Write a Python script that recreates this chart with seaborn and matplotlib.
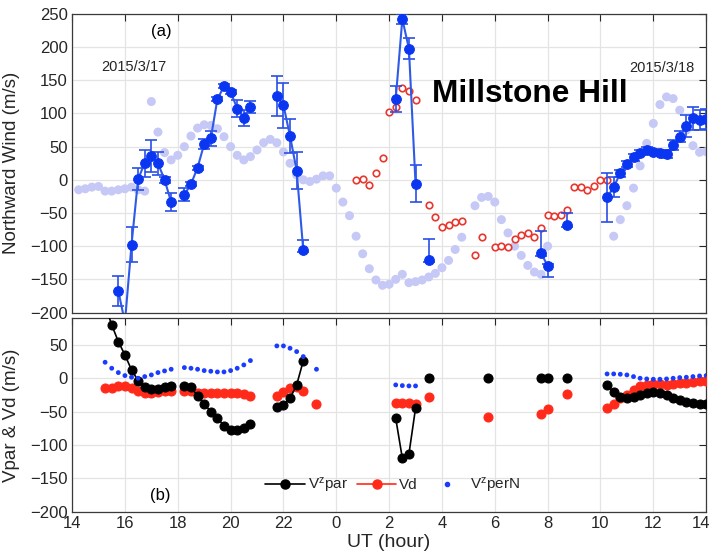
import numpy as np
import pandas as pd
import matplotlib
matplotlib.use("Agg")
import matplotlib.pyplot as plt
import matplotlib.transforms as mtransforms
import seaborn as sns
from matplotlib.lines import Line2D

# ---------------- data (UT hours, continuous from 14 on 2015/3/17) ----------------
# top panel: model northward wind (light lavender dots)
model_t = [14.25, 14.5, 14.75, 15.0, 15.25, 15.5, 15.75, 16.0, 16.25, 16.5, 16.75,
           17.0, 17.25, 17.5, 17.75, 18.0, 18.25, 18.5, 18.75, 19.0, 19.25, 19.5,
           19.75, 20.0, 20.25, 20.5, 20.75, 21.0, 21.25, 21.5, 21.75, 22.0,
           22.25, 22.5, 22.75, 23.0, 23.25, 23.5, 23.75, 24.0, 24.25, 24.5, 24.75,
           25.0, 25.25, 25.5, 25.75, 26.0, 26.25, 26.5, 26.75, 27.0, 27.25, 27.5,
           27.75, 28.0, 28.25, 28.5, 28.75,
           29.25, 29.5, 29.75, 30.0, 30.25, 30.5, 30.75, 31.0, 31.25, 31.5, 31.75, 32.0,
           34.5, 34.75, 35.0, 35.25, 35.5, 35.75, 36.0, 36.25, 36.5, 36.75, 37.0,
           37.25, 37.5, 37.75, 38.0]
model_v = [-15, -13.5, -11, -10, -17, -17, -15, -13.5, -11, -15, -17,
           118, 72, 41, 30, 37, 50, 66, 78, 83, 82, 77, 65, 50, 37, 30, 35, 45, 56, 61, 56, 42,
           25, 7.5, 0, -2.5, 1, 6, 6, -12.5, -33.5, -54, -85, -111.5, -134, -151, -159,
           -157.5, -150, -142.5, -155, -153.5, -151, -146.5, -141, -132.5, -121.5, -105, -86.5,
           -39, -26.5, -25, -33.5, -60, -80, -100, -114, -129, -139, -142.5, -100,
           -85, -60, -39, -12.5, 21, 55, 85, 113.5, 125, 122.5, 105, 75, 51.5, 41.5, 42.5]

# top panel: measured northward wind (blue, with error bars)
obs_t = [15.75, 16.0, 16.25, 16.5, 16.75, 17.0, 17.25, 17.5, 17.75,
         18.25, 18.5, 18.75, 19.0, 19.25, 19.5, 19.75, 20.0, 20.25, 20.5, 20.75,
         21.75, 22.0, 22.25, 22.5, 22.75,
         26.25, 26.5, 26.75, 27.0, 27.5,
         31.75, 32.0, 32.75,
         34.25, 34.5, 34.75, 35.0, 35.25, 35.5, 35.75, 36.0, 36.25, 36.5, 36.75,
         37.0, 37.25, 37.5, 37.75, 38.0]
obs_v = [-167.5, -215, -97.5, 1.5, 25, 36.5, 25, 0, -33.5,
         -22.5, -6.5, 18.5, 54, 62.5, 121.5, 141, 132.5, 107.5, 93.5, 110,
         126.5, 112.5, 66, 14, -106,
         122, 242.5, 197.5, -6, -121.5,
         -110, -130, -68.5,
         -26.5, -11, 10, 24, 34, 41, 45, 42.5, 41, 39, 52.5, 65, 81, 92.5, 90, 91.5]
obs_err_lo = [22, 0, 27, 17, 20, 24, 17, 5, 14,
              10, 3, 3, 8, 11, 3, 3, 3, 12.5, 12, 9.5,
              30, 34, 25, 28, 3,
              20, 7, 16, 28, 3,
              5, 16, 3,
              37.5, 15.5, 5, 5, 5, 4, 4, 4, 4, 6, 8, 8, 17, 17, 15, 15]
obs_err_hi = [22, 0, 27, 17, 20, 24, 17, 5, 14,
              10, 3, 3, 8, 11, 3, 3, 3, 12.5, 12, 9.5,
              30, 34, 25, 28, 15,
              20, 7, 16, 28, 33,
              33.5, 3, 18.5,
              37.5, 15.5, 5, 5, 5, 4, 4, 4, 4, 6, 8, 8, 17, 17, 15, 15]

# top panel: red open circles
vdn_t = [24.75, 25.0, 25.25, 25.5, 25.75, 26.0, 26.25, 26.5, 26.75, 27.0,
         27.5, 27.75, 28.0, 28.25, 28.5, 28.75, 29.25, 29.5,
         30.0, 30.25, 30.5, 30.75, 31.0, 31.25, 31.5, 31.75,
         32.0, 32.25, 32.5, 32.75, 33.0, 33.25, 33.5, 33.75, 34.0, 34.25]
vdn_v = [0, 2, -8.5, 10, 33, 101.5, 110, 139, 134, 120,
         -37.5, -56, -71, -68.5, -64, -61.5, -114, -86.5,
         -101.5, -100, -101.5, -89, -82.5, -80, -86.5, -72.5,
         -53.5, -55, -53.5, -45, -11, -11, -15, -10, 0, 0]

# bottom panel
par_t = [15.25, 15.5, 15.75, 16.0, 16.25, 16.5, 16.75, 17.0, 17.25, 17.5, 17.75,
         18.25, 18.5, 18.75, 19.0, 19.25, 19.5, 19.75, 20.0, 20.25, 20.5, 20.75,
         21.75, 22.0, 22.25, 22.5, 22.75,
         26.25, 26.5, 26.75, 27.0, 27.5, 29.75, 31.75, 32.0, 32.75,
         34.25, 34.5, 34.75, 35.0, 35.25, 35.5, 35.75, 36.0, 36.25, 36.5, 36.75,
         37.0, 37.25, 37.5, 37.75, 38.0]
par_v = [110, 80, 55, 35, 12.5, -3.5, -13.5, -16, -16.5, -13.5, -11,
         -11, -13.5, -26.5, -38.5, -50, -60, -71, -77.5, -77.5, -75, -69,
         -42.5, -40, -30, -10, 26,
         -60, -120, -113.5, -45, 1, 0, 0, 0, 0,
         -10, -21, -28.5, -30, -28.5, -25, -21.5, -20, -22.5, -25, -29, -32.5,
         -35, -36.5, -39, -39]

vd_t = [15.25, 15.5, 15.75, 16.0, 16.25, 16.5, 16.75, 17.0, 17.25, 17.5, 17.75,
        18.25, 18.5, 18.75, 19.0, 19.25, 19.5, 19.75, 20.0, 20.25, 20.5, 20.75,
        21.75, 22.0, 22.25, 22.5, 22.75, 23.25,
        26.25, 26.5, 26.75, 27.0, 27.5, 29.75, 31.75, 32.0, 32.75,
        34.25, 34.5, 34.75, 35.0, 35.25, 35.5, 35.75, 36.0, 36.25, 36.5, 36.75,
        37.0, 37.25, 37.5, 37.75, 38.0]
vd_v = [-14, -14, -11.5, -11.5, -15, -19, -21.5, -21.5, -20, -18.5, -18.5,
        -19, -19, -21.5, -21.5, -21.5, -21.5, -21.5, -21.5, -21.5, -23.5, -26,
        -26, -20, -14, -12.5, -19, -38.5,
        -36.5, -36.5, -36.5, -38.5, -28.5, -57.5, -53.5, -46.5, -24,
        -44, -39, -30, -25, -17.5, -11.5, -10, -8.5, -8.5, -10, -8.5,
        -7.5, -6.5, -5, -4, -3.5]

pern_t = [15.25, 15.5, 15.75, 16.0, 16.25, 16.5, 16.75, 17.0, 17.25, 17.5, 17.75,
          18.25, 18.5, 18.75, 19.0, 19.25, 19.5, 19.75, 20.0, 20.25, 20.5, 20.75,
          21.75, 22.0, 22.25, 22.5, 22.75, 23.25,
          26.25, 26.5, 26.75, 27.0,
          34.25, 34.5, 34.75, 35.0, 35.25, 35.5, 35.75, 36.0, 36.25, 36.5, 36.75,
          37.0, 37.25, 37.5, 37.75, 38.0]
pern_v = [24, 15, 8.5, 4, 1.5, 0, 2.5, 5, 8.5, 11, 13.5,
          16, 15, 13.5, 11.5, 10.5, 9.5, 9.5, 11.5, 15, 20, 26.5,
          48.5, 48.5, 45, 40, 32.5, 13.5,
          -10, -11, -11.5, -11.5,
          6.5, 6.5, 6, 5, 2.5, 0, -1, -1.5, -1.5, -1, 0, 1, 1.5, 2.5, 3.5, 4]

xtick_pos = [14, 16, 18, 20, 22, 24, 26, 28, 30, 32, 34, 36, 38]
xtick_lab = ["14", "16", "18", "20", "22", "0", "2", "4", "6", "8", "10", "12", "14"]
top_yticks = [-200, -150, -100, -50, 0, 50, 100, 150, 200, 250]
bot_yticks = [-200, -150, -100, -50, 0, 50]


def segments(t):
    t = np.asarray(t, float)
    return np.concatenate([[0], np.cumsum(np.diff(t) > 0.3)])


df_model = pd.DataFrame({"t": model_t, "v": model_v})
df_obs = pd.DataFrame({"t": obs_t, "v": obs_v, "seg": segments(obs_t)})
df_vdn = pd.DataFrame({"t": vdn_t, "v": vdn_v})
df_par = pd.DataFrame({"t": par_t, "v": par_v, "seg": segments(par_t)})
df_vd = pd.DataFrame({"t": vd_t, "v": vd_v, "seg": segments(vd_t)})
df_pern = pd.DataFrame({"t": pern_t, "v": pern_v})

# ---------------- style ----------------
sns.set_theme(style="white")
plt.rcParams["font.family"] = ["Liberation Sans", "DejaVu Sans"]
plt.rcParams["mathtext.fontset"] = "custom"
plt.rcParams["mathtext.rm"] = "Liberation Sans"
plt.rcParams["mathtext.it"] = "Liberation Sans"

fig = plt.figure(figsize=(7.13, 5.53), dpi=100)
ax1 = fig.add_axes([0.1011, 0.4349, 0.8893, 0.5398])
ax2 = fig.add_axes([0.1011, 0.0749, 0.8893, 0.3496])

dark = "#262626"
for ax in (ax1, ax2):
    ax.set_xlim(14, 38)
    ax.set_xticks(xtick_pos)
    ax.grid(True, color="#e4e4e4", linewidth=0.9, zorder=0)
    ax.set_axisbelow(True)
    ax.tick_params(direction="in", top=True, right=True, length=5, width=0.8,
                   colors=dark, labelsize=12, pad=3)
    for s in ax.spines.values():
        s.set_color("#3a3a3a")
        s.set_linewidth(0.9)

# ---------------- top panel ----------------
ax1.set_ylim(-200, 250)
ax1.set_yticks(top_yticks)
ax1.set_xticklabels([])

sns.scatterplot(data=df_model, x="t", y="v", ax=ax1, color="#c6c8f6", s=42,
                edgecolor="none", zorder=2, legend=False)
sns.scatterplot(data=df_vdn, x="t", y="v", ax=ax1, marker="o", s=22,
                facecolor="white", edgecolor="#e8372e", linewidth=1.2, zorder=3, legend=False)
ax1.errorbar(df_obs["t"], df_obs["v"], yerr=[obs_err_lo, obs_err_hi], fmt="none",
             ecolor="#2a4fe6", elinewidth=1.2, capsize=4, capthick=1.2, zorder=4)
sns.lineplot(data=df_obs, x="t", y="v", units="seg", estimator=None, ax=ax1,
             color="#2f5ae8", linewidth=1.5, marker="o", markersize=7,
             markerfacecolor="#0a36f2", markeredgecolor="#0a36f2", zorder=5, legend=False)
ax1.set_xlabel("")
ax1.set_ylabel("Northward Wind (m/s)", fontsize=13.5, color=dark)
ax1.yaxis.set_label_coords(-0.082, 0.5)

ax1.text(0.1413, 0.9407, "(a)", transform=ax1.transAxes, ha="center", va="center",
         fontsize=12, color="black")
ax1.text(0.097, 0.821, "2015/3/17", transform=ax1.transAxes, ha="center", va="center",
         fontsize=10.5, color=dark)
ax1.text(0.9306, 0.820, "2015/3/18", transform=ax1.transAxes, ha="center", va="center",
         fontsize=10.5, color=dark)
ax1.text(0.5676, 0.7062, "Millstone Hill", transform=ax1.transAxes, ha="left",
         va="baseline", fontsize=22.8, fontweight="bold", color="black")

# ---------------- bottom panel ----------------
ax2.set_ylim(-200, 90)
ax2.set_yticks(bot_yticks)
ax2.set_xticklabels(xtick_lab)
last = ax2.get_xticklabels()[-1]
last.set_transform(last.get_transform() +
                   mtransforms.ScaledTranslation(-4 / 72, 0, fig.dpi_scale_trans))

sns.lineplot(data=df_vd, x="t", y="v", units="seg", estimator=None, ax=ax2,
             color="#ff2a1a", linewidth=1.2, marker="o", markersize=6.5,
             markerfacecolor="#ff2a1a", markeredgecolor="#ff2a1a", zorder=3, legend=False)
sns.lineplot(data=df_par, x="t", y="v", units="seg", estimator=None, ax=ax2,
             color="black", linewidth=1.2, marker="o", markersize=6.5,
             markerfacecolor="black", markeredgecolor="black", zorder=4, legend=False)
sns.scatterplot(data=df_pern, x="t", y="v", ax=ax2, color="#1a3cff", s=12,
                edgecolor="none", zorder=5, legend=False)
ax2.set_xlabel("UT (hour)", fontsize=14, color=dark, labelpad=2)
ax2.set_ylabel("Vpar & Vd (m/s)", fontsize=13.5, color=dark)
ax2.yaxis.set_label_coords(-0.082, 0.5)

ax2.text(0.1396, 0.081, "(b)", transform=ax2.transAxes, ha="center", va="center",
         fontsize=12, color="black")

handles = [
    Line2D([], [], color="black", lw=1.2, marker="o", markersize=6.5),
    Line2D([], [], color="#ff2a1a", lw=1.2, marker="o", markersize=6.5),
    Line2D([], [], color="#1a3cff", lw=0, marker="o", markersize=3),
]
labels = [r"V$^{\mathrm{z}}$par", "Vd", r"V$^{\mathrm{z}}$perN"]
ax2.legend(handles, labels, loc="center left", bbox_to_anchor=(0.304, 0.136),
           ncol=3, frameon=False, fontsize=11, handlelength=2.6, handletextpad=0.2,
           columnspacing=0.6, borderpad=0, borderaxespad=0)

fig.savefig("out.png", dpi=100)
